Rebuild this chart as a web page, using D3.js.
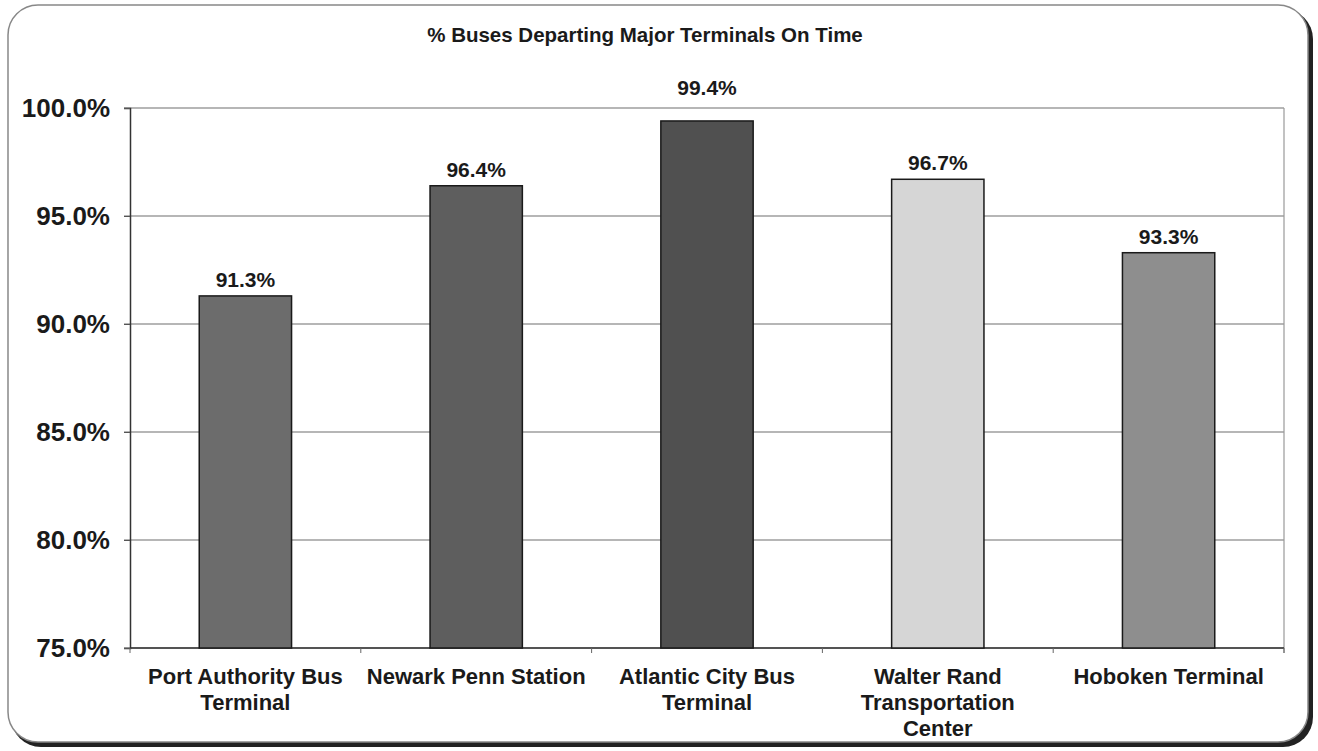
<!DOCTYPE html>
<meta charset="utf-8">
<style>
body { margin: 0; background: #fff; }
svg text { font-family: "Liberation Sans", Arial, sans-serif; font-weight: bold; fill: #1a1a1a; }
.grid line { stroke: #6e6e6e; stroke-width: 1.2; }
</style>
<body>
<script src="https://cdn.jsdelivr.net/npm/d3@7/dist/d3.min.js"></script>
<script>

var terminals = [
    ['Port Authority Bus', 'Terminal'],
    ['Newark Penn Station'],
    ['Atlantic City Bus', 'Terminal'],
    ['Walter Rand', 'Transportation', 'Center'],
    ['Hoboken Terminal']
]
var onTime = [91.3, 96.4, 99.4, 96.7, 93.3]
var barColors = ['#6c6c6c', '#5e5e5e', '#505050', '#d6d6d6', '#8e8e8e']
var yTicks = [75, 80, 85, 90, 95, 100]
var title = '% Buses Departing Major Terminals On Time'

var width = 1318
var height = 751
var margin = {top: 108, right: 34, bottom: 103, left: 130}

var svg = d3.select('body').append('svg')
    .attr('width', width)
    .attr('height', height)

// frame with shadow
svg.append('rect')
    .attr('x', 11).attr('y', 9)
    .attr('width', width - 16).attr('height', height - 13)
    .attr('rx', 30)
    .attr('fill', '#222')
svg.append('rect')
    .attr('x', 8).attr('y', 5)
    .attr('width', width - 18).attr('height', height - 14)
    .attr('rx', 30)
    .attr('fill', '#fff')
    .attr('stroke', '#888')
    .attr('stroke-width', 1.5)

svg.append('text')
    .attr('x', 645).attr('y', 42)
    .attr('text-anchor', 'middle')
    .style('font-size', '20.5px')
    .text(title)

var x = d3.scaleBand()
    .domain(d3.range(onTime.length))
    .range([margin.left, width - margin.right])
    .paddingInner(0.6)
    .paddingOuter(0.3)

var xb = d3.scaleBand()
    .domain(d3.range(onTime.length))
    .range([margin.left, width - margin.right])

var y = d3.scaleLinear()
    .domain([75, 100])
    .range([height - margin.bottom, margin.top])

// gridlines
svg.append('g')
    .attr('class', 'grid')
    .selectAll('line')
    .data(yTicks)
    .enter().append('line')
    .attr('x1', margin.left - 6)
    .attr('x2', width - margin.right)
    .attr('y1', function (d) { return y(d) })
    .attr('y2', function (d) { return y(d) })

// right edge of plot
svg.append('line')
    .attr('x1', width - margin.right).attr('x2', width - margin.right)
    .attr('y1', y(100)).attr('y2', y(75) + 5)
    .attr('stroke', '#999').attr('stroke-width', 1.2)

// y axis
var yAxis = svg.append('g')
    .attr('transform', 'translate(' + margin.left + ',0)')
    .call(d3.axisLeft(y).tickValues(yTicks).tickSize(6).tickPadding(14)
        .tickFormat(function (d) { return d.toFixed(1) + '%' }))
yAxis.select('.domain').attr('stroke', '#333').attr('stroke-width', 1.5)
yAxis.selectAll('.tick line').attr('stroke', '#555')
yAxis.selectAll('text').style('font-size', '26px').attr('fill', '#1a1a1a')

// x axis
var xAxis = svg.append('g')
    .attr('transform', 'translate(0,' + y(75) + ')')
xAxis.append('line')
    .attr('x1', margin.left).attr('x2', width - margin.right)
    .attr('stroke', '#333').attr('stroke-width', 1.5)
xAxis.selectAll('.tk')
    .data(d3.range(onTime.length + 1))
    .enter().append('line')
    .attr('class', 'tk')
    .attr('x1', function (i) { return margin.left + i * xb.step() })
    .attr('x2', function (i) { return margin.left + i * xb.step() })
    .attr('y1', 0).attr('y2', 5)
    .attr('stroke', '#666')

var labels = xAxis.selectAll('text')
    .data(terminals)
    .enter().append('text')
    .attr('text-anchor', 'middle')
    .style('font-size', '22px')
    .attr('transform', function (d, i) { return 'translate(' + (xb(i) + xb.bandwidth() / 2) + ',36)' })
labels.selectAll('tspan')
    .data(function (d) { return d })
    .enter().append('tspan')
    .attr('x', 0)
    .attr('dy', function (d, i) { return i ? 26 : 0 })
    .text(function (d) { return d })

// bars
svg.append('g')
    .selectAll('rect')
    .data(onTime)
    .enter().append('rect')
    .attr('x', function (d, i) { return x(i) })
    .attr('y', function (d) { return y(d) })
    .attr('width', x.bandwidth())
    .attr('height', function (d) { return y(75) - y(d) })
    .attr('fill', function (d, i) { return barColors[i] })
    .attr('stroke', '#1a1a1a')
    .attr('stroke-width', 1.5)

// value labels; lift above the top gridline if they would sit on it
svg.append('g')
    .selectAll('text')
    .data(onTime)
    .enter().append('text')
    .attr('x', function (d, i) { return x(i) + x.bandwidth() / 2 })
    .attr('y', function (d) {
        var ly = y(d) - 9
        if (ly - 16 < y(100)) ly = y(100) - 13
        return ly
    })
    .attr('text-anchor', 'middle')
    .style('font-size', '21px')
    .text(function (d) { return d.toFixed(1) + '%' })

</script>
</body>
